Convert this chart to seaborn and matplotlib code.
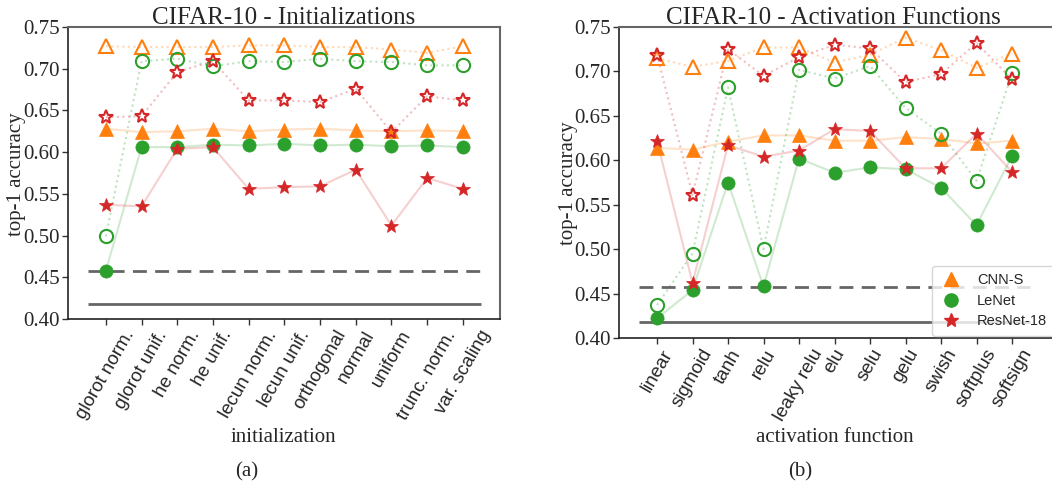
import numpy as np
import pandas as pd
import seaborn as sns
import matplotlib
matplotlib.use("Agg")
import matplotlib.pyplot as plt
from matplotlib.lines import Line2D

# ---------------- data ----------------
init_labels = ["glorot norm.", "glorot unif.", "he norm.", "he unif.", "lecun norm.",
               "lecun unif.", "orthogonal", "normal", "uniform", "trunc. norm.", "var. scaling"]
init_cnn_s      = [0.628, 0.624, 0.625, 0.628, 0.625, 0.627, 0.628, 0.626, 0.625, 0.626, 0.625]
init_cnn_s_h    = [0.727, 0.726, 0.726, 0.726, 0.728, 0.728, 0.726, 0.726, 0.723, 0.719, 0.727]
init_lenet      = [0.458, 0.606, 0.606, 0.609, 0.608, 0.610, 0.608, 0.609, 0.607, 0.608, 0.606]
init_lenet_h    = [0.499, 0.709, 0.712, 0.703, 0.709, 0.708, 0.712, 0.709, 0.708, 0.704, 0.704]
init_resnet     = [0.537, 0.535, 0.604, 0.606, 0.556, 0.558, 0.559, 0.579, 0.512, 0.569, 0.556]
init_resnet_h   = [0.642, 0.643, 0.696, 0.709, 0.662, 0.662, 0.660, 0.676, 0.624, 0.667, 0.662]

act_labels = ["linear", "sigmoid", "tanh", "relu", "leaky relu", "elu", "selu",
              "gelu", "swish", "softplus", "softsign"]
act_cnn_s      = [0.614, 0.612, 0.621, 0.628, 0.628, 0.622, 0.622, 0.626, 0.624, 0.619, 0.622]
act_cnn_s_h    = [0.715, 0.705, 0.712, 0.727, 0.727, 0.710, 0.719, 0.738, 0.724, 0.704, 0.720]
act_lenet      = [0.422, 0.454, 0.575, 0.458, 0.602, 0.586, 0.592, 0.590, 0.569, 0.527, 0.605]
act_lenet_h    = [0.437, 0.495, 0.682, 0.500, 0.702, 0.692, 0.706, 0.659, 0.630, 0.577, 0.698]
act_resnet     = [0.622, 0.462, 0.617, 0.604, 0.611, 0.635, 0.633, 0.591, 0.591, 0.630, 0.587]
act_resnet_h   = [0.719, 0.561, 0.725, 0.695, 0.716, 0.730, 0.726, 0.688, 0.697, 0.732, 0.691]

baseline_dashed = 0.457
baseline_solid = 0.418

series_names = ["CNN-S", "LeNet", "ResNet-18"]
series_colors = ["#ff7f0e", "#2ca02c", "#d62728"]
series_markers = ["^", "o", "*"]
series_ms = [10, 9.5, 10]

# ---------------- style ----------------
sns.set_theme(style="white")
plt.rcParams["font.family"] = ["Liberation Serif", "DejaVu Serif"]

W, H = 1052, 486
fig = plt.figure(figsize=(W / 100, H / 100), dpi=100)


def px_axes(l, t, r, b):
    return fig.add_axes([l / W, 1 - b / H, (r - l) / W, (b - t) / H])


def draw_panel(ax, labels, filled, hollow, xlim, title):
    x = np.arange(len(labels))
    for i in range(3):
        c = series_colors[i]
        df_f = pd.DataFrame({"x": x, "y": filled[i]})
        df_h = pd.DataFrame({"x": x, "y": hollow[i]})
        sns.lineplot(data=df_h, x="x", y="y", ax=ax, color=c, alpha=0.3,
                     linestyle=":", linewidth=1.5, sort=False, zorder=2)
        sns.lineplot(data=df_f, x="x", y="y", ax=ax, color=c, alpha=0.22,
                     linestyle="-", linewidth=1.5, sort=False, zorder=2)
    for i in range(3):
        c = series_colors[i]
        ax.plot(x, hollow[i], linestyle="none", marker=series_markers[i],
                ms=series_ms[i], mfc="none", mec=c, mew=1.5, zorder=4)
        ax.plot(x, filled[i], linestyle="none", marker=series_markers[i],
                ms=series_ms[i], mfc=c, mec=c, mew=0.5, zorder=4)
    ax.hlines(baseline_dashed, -0.5, 10.5, colors="#666666", linestyles=(0, (5, 3)),
              linewidth=2, zorder=3)
    ax.hlines(baseline_solid, -0.5, 10.5, colors="#666666", linestyles="-",
              linewidth=2, zorder=3)
    ax.set_xlim(*xlim)
    ax.set_ylim(0.40, 0.75)
    ax.set_yticks(np.arange(0.40, 0.751, 0.05))
    ax.set_yticklabels([f"{v:.2f}" for v in np.arange(0.40, 0.751, 0.05)], fontsize=15)
    ax.set_xticks(x)
    ax.set_xticklabels(labels, rotation=60, fontsize=13.5,
                       family=["Liberation Sans", "DejaVu Sans"])
    ax.tick_params(axis="both", which="major", direction="out", length=4, width=1,
                   bottom=True, left=True, pad=2, color="#333333")
    ax.set_xlabel("")
    ax.set_ylabel("")
    ax.set_title(title, fontsize=18, pad=2)
    for side in ["left", "bottom"]:
        ax.spines[side].set_color("#222222")
        ax.spines[side].set_linewidth(1.2)
    for side in ["top", "right"]:
        ax.spines[side].set_color("#666666")
        ax.spines[side].set_linewidth(1.5)


ax1 = px_axes(68, 27, 500, 319)
draw_panel(ax1, init_labels,
           [init_cnn_s, init_lenet, init_resnet],
           [init_cnn_s_h, init_lenet_h, init_resnet_h],
           (-1.06, 11.04), "CIFAR-10 - Initializations")

ax2 = px_axes(619, 27, 1060, 338)
draw_panel(ax2, act_labels,
           [act_cnn_s, act_lenet, act_resnet],
           [act_cnn_s_h, act_lenet_h, act_resnet_h],
           (-1.07, 11.35), "CIFAR-10 - Activation Functions")
ax2.title.set_position((0.485, 1.0))

handles = [Line2D([], [], linestyle="none", marker=series_markers[i], ms=series_ms[i],
                  color=series_colors[i], mec=series_colors[i]) for i in range(3)]
leg = ax2.legend(handles, series_names, loc="upper left",
                 bbox_to_anchor=(932 / W, 1 - 266 / H), bbox_transform=fig.transFigure,
                 borderaxespad=0, frameon=True, fancybox=True, framealpha=0.8,
                 prop={"family": ["Liberation Sans", "DejaVu Sans"], "size": 10.5},
                 handlelength=1.6, handletextpad=1.0, labelspacing=0.45,
                 borderpad=0.5)
leg.get_frame().set_edgecolor("#cccccc")
leg.set_zorder(10)

fig.text(17 / W, 1 - 174 / H, "top-1 accuracy", ha="center", va="center",
         rotation=90, fontsize=15)
fig.text(568 / W, 1 - 183 / H, "top-1 accuracy", ha="center", va="center",
         rotation=90, fontsize=15)
fig.text(283 / W, 1 - 437 / H, "initialization", ha="center", va="center", fontsize=15)
fig.text(835 / W, 1 - 437 / H, "activation function", ha="center", va="center", fontsize=15)
fig.text(247 / W, 1 - 472 / H, "(a)", ha="center", va="center", fontsize=15)
fig.text(800 / W, 1 - 472 / H, "(b)", ha="center", va="center", fontsize=15)

fig.savefig("out.png", dpi=100)
